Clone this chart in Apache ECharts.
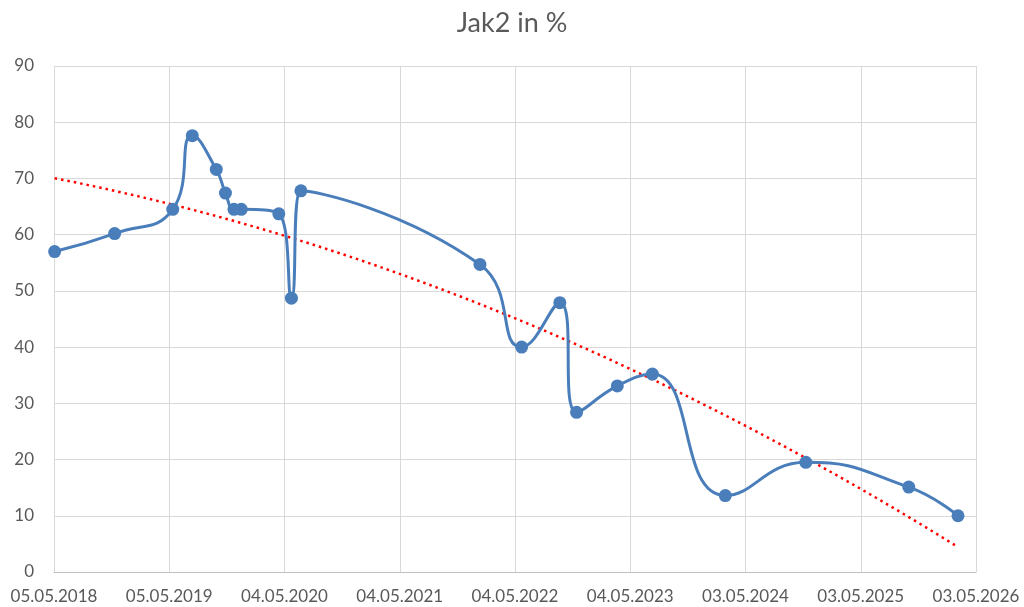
<!DOCTYPE html>
<html>
<head>
<meta charset="utf-8">
<script src="https://cdn.jsdelivr.net/npm/echarts@6/dist/echarts.min.js"></script>
<style>
  html, body { margin: 0; padding: 0; background: #fff; }
  #chart { width: 1024px; height: 607px; }
</style>
</head>
<body>
<div id="chart"></div>
<script>
// axis range (dates shown as dd.mm.yyyy, one tick every 365 days)
var axisStart = '2018-05-05';
var axisEnd = '2026-05-03';
var tickDays = 365;

// measurements
var dates = [
    '2018-05-07', '2018-11-13', '2019-05-16', '2019-07-17', '2019-10-01',
    '2019-10-30', '2019-11-26', '2019-12-19', '2020-04-16', '2020-05-26',
    '2020-06-25', '2022-01-13', '2022-05-25', '2022-09-23', '2022-11-15',
    '2023-03-24', '2023-07-13', '2024-02-29', '2024-11-10', '2025-10-02',
    '2026-03-07'
];
var jak2 = [
    57.0, 60.2, 64.5, 77.6, 71.6,
    67.4, 64.5, 64.5, 63.7, 48.7,
    67.8, 54.7, 40.0, 47.9, 28.4,
    33.1, 35.2, 13.6, 19.5, 15.1,
    10.0
];

var DAY = 86400000;
function toMs(s) {
    var p = s.split('-');
    return Date.UTC(+p[0], +p[1] - 1, +p[2]);
}
function dayOf(s) {
    return Math.round((toMs(s) - toMs(axisStart)) / DAY);
}
function pad(n) { return n < 10 ? '0' + n : '' + n; }
function fmtDay(v) {
    var d = new Date(toMs(axisStart) + v * DAY);
    return pad(d.getUTCDate()) + '.' + pad(d.getUTCMonth() + 1) + '.' + d.getUTCFullYear();
}

var points = dates.map(function (d, i) { return [dayOf(d), jak2[i]]; });

// polynomial (order 2) trend line, least squares
function polyFit(pts) {
    var s = [0, 0, 0, 0, 0], t = [0, 0, 0];
    pts.forEach(function (p) {
        var x = p[0] / 1000, y = p[1];
        for (var k = 0; k < 5; k++) s[k] += Math.pow(x, k);
        for (var k2 = 0; k2 < 3; k2++) t[k2] += Math.pow(x, k2) * y;
    });
    var m = [
        [s[0], s[1], s[2], t[0]],
        [s[1], s[2], s[3], t[1]],
        [s[2], s[3], s[4], t[2]]
    ];
    for (var i = 0; i < 3; i++) {
        for (var j = i + 1; j < 3; j++) {
            var f = m[j][i] / m[i][i];
            for (var c = i; c < 4; c++) m[j][c] -= f * m[i][c];
        }
    }
    var r = [0, 0, 0];
    for (var i2 = 2; i2 >= 0; i2--) {
        var v = m[i2][3];
        for (var c2 = i2 + 1; c2 < 3; c2++) v -= m[i2][c2] * r[c2];
        r[i2] = v / m[i2][i2];
    }
    return function (xd) {
        var x = xd / 1000;
        return r[0] + r[1] * x + r[2] * x * x;
    };
}
var trendFn = polyFit(points);
var trend = [];
var x0 = points[0][0], x1 = points[points.length - 1][0];
for (var i = 0; i <= 80; i++) {
    var xd = x0 + (x1 - x0) * i / 80;
    trend.push([xd, trendFn(xd)]);
}

var textColor = '#595959';
var fontFamily = 'Lato, "Open Sans", sans-serif';

var chart = echarts.init(document.getElementById('chart'));
chart.setOption({
    animation: false,
    backgroundColor: '#fff',
    title: {
        text: 'Jak2 in %',
        left: 'center',
        top: 5,
        textStyle: { color: textColor, fontSize: 27, fontWeight: 'normal', fontFamily: fontFamily }
    },
    grid: {
        left: 54, right: 48, top: 66, bottom: 35,
        containLabel: false,
        outerBoundsMode: 'none'
    },
    xAxis: {
        type: 'value',
        min: 0,
        max: dayOf(axisEnd),
        interval: tickDays,
        axisLine: { show: true, lineStyle: { color: '#bfbfbf', width: 1 } },
        axisTick: { show: false },
        axisLabel: {
            color: textColor, fontSize: 17, fontFamily: fontFamily, margin: 16,
            showMinLabel: true, showMaxLabel: true,
            formatter: fmtDay
        },
        splitLine: { show: true, lineStyle: { color: '#d9d9d9', width: 1 } }
    },
    yAxis: {
        type: 'value',
        min: 0, max: 90, interval: 10,
        axisLine: { show: false },
        axisTick: { show: false },
        axisLabel: { color: textColor, fontSize: 17, fontFamily: fontFamily, margin: 20 },
        splitLine: { show: true, lineStyle: { color: '#d9d9d9', width: 1 } }
    },
    series: [
        {
            name: 'Jak2',
            type: 'line',
            data: points,
            smooth: 0.5,
            symbol: 'circle',
            symbolSize: 13,
            lineStyle: { color: '#4a7ebb', width: 3 },
            itemStyle: { color: '#4a7ebb' },
            z: 3
        },
        {
            name: 'Trend',
            type: 'line',
            data: trend,
            smooth: false,
            showSymbol: false,
            silent: true,
            lineStyle: { color: '#ff0000', width: 2.5, type: [2.5, 4], cap: 'butt' },
            z: 2
        }
    ]
});
</script>
</body>
</html>
